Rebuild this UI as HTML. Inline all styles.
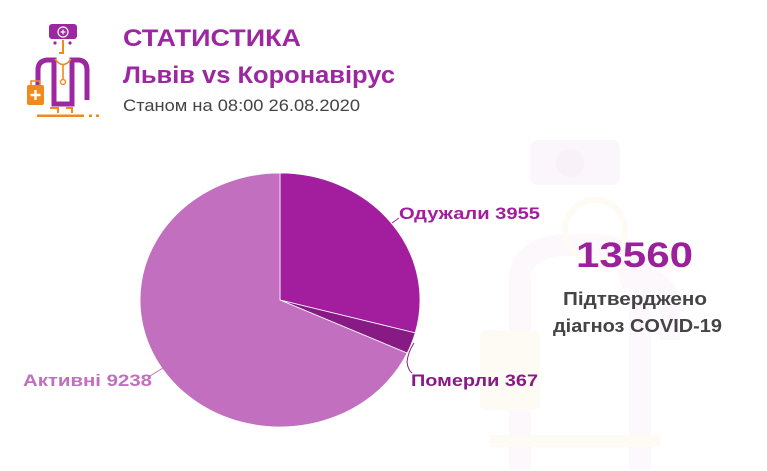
<!DOCTYPE html>
<html><head><meta charset="utf-8"><style>
html,body{margin:0;padding:0;background:#fff;}
svg{display:block;}
text{font-family:"Liberation Sans","Noto Sans CJK SC",sans-serif;}
</style></head><body>
<svg width="767" height="471" viewBox="0 0 767 471" xmlns="http://www.w3.org/2000/svg">
<rect width="767" height="471" fill="#ffffff"/>
<!-- faint watermark -->
<g>
  <rect x="530" y="140" width="90" height="45" rx="8" fill="#fbf6fb"/>
  <circle cx="570" cy="163" r="14" fill="#f8f1f8"/>
  <path d="M520 470 V280 Q520 250 560 245 L600 245 Q640 250 640 280 V470" fill="none" stroke="#fcf8fc" stroke-width="22"/>
  <path d="M620 280 Q660 270 670 300 V340" fill="none" stroke="#fcf8fc" stroke-width="20"/>
  <rect x="480" y="330" width="60" height="80" rx="6" fill="#fefbf5"/>
  <rect x="490" y="435" width="170" height="12" fill="#fefbf4"/>
  <circle cx="595" cy="230" r="30" fill="none" stroke="#fefbf4" stroke-width="6"/>
</g>
<!-- logo -->
<g>
  <rect x="49" y="24" width="28" height="15" rx="3" fill="#9c27a0"/>
  <circle cx="63" cy="32" r="5" fill="none" stroke="#fff" stroke-width="1.2"/>
  <path d="M63 29.5v5M60.5 32h5" stroke="#fff" stroke-width="1.2"/>
  <circle cx="55" cy="43" r="1.6" fill="#9c27a0"/>
  <circle cx="70" cy="43" r="1.6" fill="#9c27a0"/>
  <path d="M63 40 V53 H59" fill="none" stroke="#f08a1c" stroke-width="2"/>
  <path d="M38 92 V70 Q38 61 47 60 L54 60 V104 H72 V60 L79 60 Q87 61 87 70 V100" fill="none" stroke="#9c27a0" stroke-width="5"/>
  <path d="M55 59 Q63 70 71 59" fill="none" stroke="#f08a1c" stroke-width="1.6"/>
  <path d="M63 64 V80" stroke="#f08a1c" stroke-width="1.6"/>
  <circle cx="63" cy="82" r="2.5" fill="none" stroke="#f08a1c" stroke-width="1.4"/>
  <rect x="27" y="85" width="17" height="20" rx="2" fill="#f08a1c"/>
  <path d="M31 85 V81 H40 V85" fill="none" stroke="#f08a1c" stroke-width="1.6"/>
  <path d="M35.5 90v10M30.5 95h10" stroke="#fff" stroke-width="2.4"/>
  <path d="M50 108 H58 V113 M66 108 H72 V113" fill="none" stroke="#f08a1c" stroke-width="2"/>
  <rect x="37" y="114.5" width="47" height="2.5" fill="#f08a1c"/>
  <rect x="89" y="114.5" width="3" height="2.5" fill="#f08a1c"/>
  <rect x="96" y="114.5" width="3" height="2.5" fill="#f08a1c"/>
</g>
<!-- header -->
<text x="123" y="46" font-size="24" font-weight="bold" fill="#9c27a0" textLength="178" lengthAdjust="spacingAndGlyphs">СТАТИСТИКА</text>
<text x="123" y="83" font-size="24" font-weight="bold" fill="#9c27a0" textLength="272" lengthAdjust="spacingAndGlyphs">Львів vs Коронавірус</text>
<text x="123" y="111" font-size="17" fill="#444" textLength="237" lengthAdjust="spacingAndGlyphs">Станом на 08:00 26.08.2020</text>
<!-- pie -->
<path d="M280 300 L280 173 A140 127 0 0 1 415.2 332.9 Z" fill="#a21e9e" stroke="#fff" stroke-width="0.8"/>
<path d="M280 300 L415.2 332.9 A140 127 0 0 1 407.2 353.1 Z" fill="#881a86" stroke="#fff" stroke-width="0.8"/>
<path d="M280 300 L407.2 353.1 A140 127 0 1 1 280 173 Z" fill="#c26fbf" stroke="#fff" stroke-width="0.8"/>
<!-- leaders -->
<path d="M392 223 L399 218" stroke="#a21e9e" stroke-width="1" fill="none"/>
<path d="M414 343 Q408 352 407 362 Q408 370 412 373" stroke="#881a86" stroke-width="1" fill="none"/>
<path d="M150 376 L163 368" stroke="#c26fbf" stroke-width="1" fill="none"/>
<!-- labels -->
<text x="399" y="219" font-size="17" font-weight="bold" fill="#a21e9e" textLength="141" lengthAdjust="spacingAndGlyphs">Одужали 3955</text>
<text x="411" y="386" font-size="17" font-weight="bold" fill="#881a86" textLength="127" lengthAdjust="spacingAndGlyphs">Померли 367</text>
<text x="23" y="386" font-size="17" font-weight="bold" fill="#c26fbf" textLength="129" lengthAdjust="spacingAndGlyphs">Активні 9238</text>
<!-- total -->
<text x="576" y="267" font-size="35" font-weight="bold" fill="#9c1f9c" textLength="117" lengthAdjust="spacingAndGlyphs">13560</text>
<text x="563" y="305" font-size="18" font-weight="bold" fill="#444" textLength="144" lengthAdjust="spacingAndGlyphs">Підтверджено</text>
<text x="553" y="332" font-size="18" font-weight="bold" fill="#444" textLength="169" lengthAdjust="spacingAndGlyphs">діагноз COVID-19</text>
</svg>
</body></html>
